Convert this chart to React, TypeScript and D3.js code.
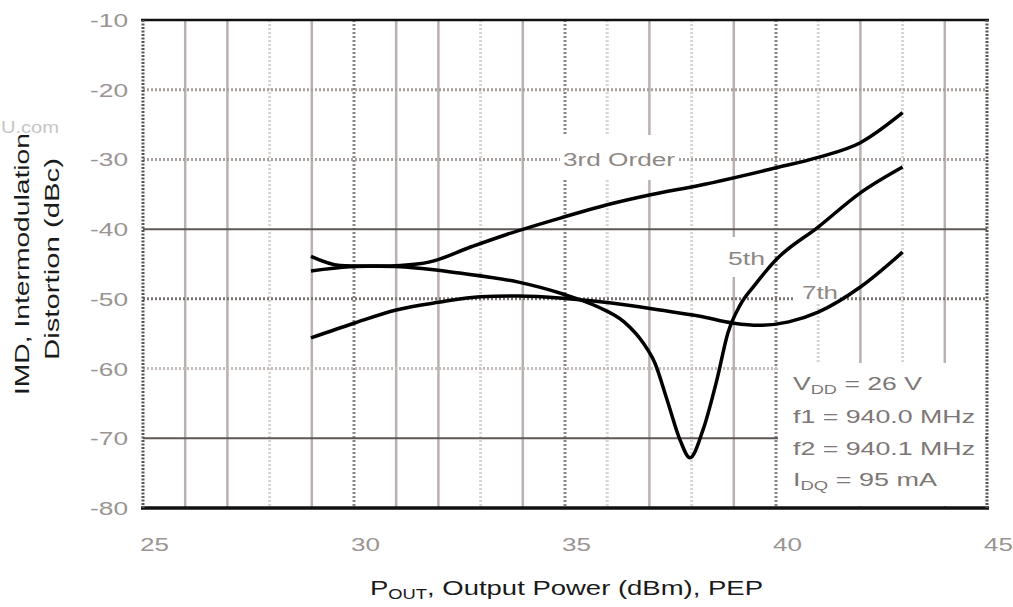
import React from 'react';
import * as d3 from 'd3';

// axis ticks
const xTicks = [25, 30, 35, 40, 45];
const yTicks = [-10, -20, -30, -40, -50, -60, -70, -80];

// 3rd order IMD
const thirdPout = [28.98, 29.9, 31.1, 31.8, 32.75, 33.6, 34.95, 36.0, 37.0, 38.2, 40.0, 41.0, 42.0, 43.0];
const thirdImd = [-46.0, -45.4, -45.2, -44.7, -42.6, -40.8, -38.3, -36.5, -35.1, -33.7, -31.2, -29.7, -27.6, -23.3];

// 5th order IMD
const fifthPout = [28.98, 29.67, 31.1, 32.5, 33.9, 34.95, 35.8, 36.4, 36.85, 37.13, 37.42, 37.73, 37.96, 38.27, 38.6, 38.86, 39.15, 39.5, 40.0, 41.0, 42.0, 43.0];
const fifthImd = [-43.9, -45.2, -45.4, -46.3, -47.6, -49.3, -51.2, -53.3, -56.3, -59.2, -64.5, -70.3, -72.8, -68.8, -61.6, -54.9, -50.9, -48.0, -44.4, -39.7, -34.8, -31.1];

// 7th order IMD
const seventhPout = [28.98, 30.0, 31.0, 32.0, 33.0, 33.9, 34.95, 36.1, 37.25, 38.2, 39.0, 39.6, 40.3, 41.0, 42.0, 43.0];
const seventhImd = [-55.6, -53.5, -51.6, -50.5, -49.7, -49.6, -49.9, -50.6, -51.6, -52.5, -53.5, -53.8, -53.3, -51.9, -48.3, -43.3];

const W = 1013;
const H = 607;
const margin = { left: 143, right: 26, top: 20, bottom: 99 };

const x = d3.scaleLinear().domain([25, 45]).range([margin.left, W - margin.right]);
const y = d3.scaleLinear().domain([-80, -10]).range([H - margin.bottom, margin.top]);

const line = d3
  .line<[number, number]>()
  .x((d) => x(d[0]))
  .y((d) => y(d[1]))
  .curve(d3.curveMonotoneX);

const zip = (a: number[], b: number[]) => a.map((v, i) => [v, b[i]] as [number, number]);

// scanned grid: three kinds of vertical lines
const solidV = [26, 27, 29, 31, 32, 34, 37, 39, 42, 44];
const darkDotV = [30, 35, 40];
const lightDotV = [28, 33, 36, 38, 41, 43];

const hStyle: Record<number, { stroke: string; dash?: string; w: number }> = {
  [-20]: { stroke: '#a8a09c', dash: '2,2', w: 3 },
  [-30]: { stroke: '#a8a09c', dash: '2,2', w: 3 },
  [-40]: { stroke: '#5f5755', w: 2 },
  [-50]: { stroke: '#7c7472', dash: '2,2', w: 3 },
  [-60]: { stroke: '#c4bcb9', dash: '2,2', w: 3 },
  [-70]: { stroke: '#5f5755', w: 2 },
};

const font = 'Liberation Sans, Arial, sans-serif';

const App = () => {
  const x0 = x(25);
  const x1 = x(45);
  const y0 = y(-80);
  const y1 = y(-10);

  return (
    <svg
      width={W}
      height={H}
      style={{ position: 'absolute', left: 0, top: 0, background: '#fff' }}
      fontFamily={font}
    >
      <rect width={W} height={H} fill="#fff" />

      {/* grid */}
      {solidV.map((v) => (
        <line key={'s' + v} x1={x(v)} x2={x(v)} y1={y1} y2={y0} stroke="#b9b1ad" strokeWidth={2.5} />
      ))}
      {darkDotV.map((v) => (
        <line key={'d' + v} x1={x(v)} x2={x(v)} y1={y1} y2={y0} stroke="#8c8482" strokeWidth={3} strokeDasharray="2,2" />
      ))}
      {lightDotV.map((v) => (
        <line key={'l' + v} x1={x(v)} x2={x(v)} y1={y1} y2={y0} stroke="#dbd5d2" strokeWidth={3} strokeDasharray="2,2" />
      ))}
      {yTicks
        .filter((t) => hStyle[t])
        .map((t) => (
          <line
            key={'h' + t}
            x1={x0}
            x2={x1}
            y1={y(t)}
            y2={y(t)}
            stroke={hStyle[t].stroke}
            strokeWidth={hStyle[t].w}
            strokeDasharray={hStyle[t].dash}
          />
        ))}

      {/* white patches behind labels */}
      <rect x={560} y={135} width={118} height={45} fill="#fff" />
      <rect x={722} y={237} width={48} height={40} fill="#fff" />
      <rect x={793} y={280} width={47} height={24} fill="#fff" />
      <rect x={x(40) + 2} y={363} width={x(45) - x(40) - 4} height={y0 - 363 - 2} fill="#fff" />

      {/* frame */}
      <line x1={x0 - 2} x2={x1 + 2} y1={y1} y2={y1} stroke="#111" strokeWidth={2.5} />
      <line x1={x0 - 2} x2={x1 + 2} y1={y0} y2={y0} stroke="#111" strokeWidth={3.5} />
      <line x1={x0} x2={x0} y1={y1} y2={y0} stroke="#5a5452" strokeWidth={3} strokeDasharray="2,1.5" />
      <line x1={x1} x2={x1} y1={y1} y2={y0} stroke="#5a5452" strokeWidth={3} strokeDasharray="2,1.5" />

      {/* curves */}
      {[zip(thirdPout, thirdImd), zip(fifthPout, fifthImd), zip(seventhPout, seventhImd)].map((d, i) => (
        <path key={i} d={line(d) || ''} fill="none" stroke="#000" strokeWidth={3.5} strokeLinejoin="round" />
      ))}

      {/* tick labels */}
      {yTicks.map((t) => (
        <text
          key={'yt' + t}
          x={90}
          y={y(t) + 7}
          fontSize={18}
          fill="#9a9492"
          textLength={38}
          lengthAdjust="spacingAndGlyphs"
        >
          {t}
        </text>
      ))}
      {xTicks.map((t) => (
        <text
          key={'xt' + t}
          x={x(t) - 3}
          y={551}
          fontSize={18}
          fill="#9a9492"
          textLength={29}
          lengthAdjust="spacingAndGlyphs"
        >
          {t}
        </text>
      ))}

      {/* curve labels */}
      <text x={563} y={166} fontSize={18} fill="#8e8884" textLength={112} lengthAdjust="spacingAndGlyphs">
        3rd Order
      </text>
      <text x={728} y={265} fontSize={18} fill="#8e8884" textLength={37} lengthAdjust="spacingAndGlyphs">
        5th
      </text>
      <text x={802} y={299} fontSize={18} fill="#8e8884" textLength={36} lengthAdjust="spacingAndGlyphs">
        7th
      </text>

      {/* conditions */}
      <g fontSize={19} fill="#7d7775">
        <text x={793} y={390} textLength={129} lengthAdjust="spacingAndGlyphs">
          V<tspan fontSize={13} dy={4}>DD</tspan>
          <tspan dy={-4}> = 26 V</tspan>
        </text>
        <text x={793} y={423} textLength={182} lengthAdjust="spacingAndGlyphs">
          f1 = 940.0 MHz
        </text>
        <text x={793} y={455} textLength={182} lengthAdjust="spacingAndGlyphs">
          f2 = 940.1 MHz
        </text>
        <text x={793} y={486} textLength={144} lengthAdjust="spacingAndGlyphs">
          I<tspan fontSize={13} dy={4}>DQ</tspan>
          <tspan dy={-4}> = 95 mA</tspan>
        </text>
      </g>

      {/* axis titles */}
      <text x={370} y={595} fontSize={21} fill="#1a1a1a" textLength={393} lengthAdjust="spacingAndGlyphs">
        P<tspan fontSize={14} dy={4}>OUT</tspan>
        <tspan dy={-4}>, Output Power (dBm), PEP</tspan>
      </text>
      <g transform="translate(29,264) rotate(-90)">
        <text x={0} y={0} fontSize={20} fill="#1a1a1a" textAnchor="middle" textLength={262} lengthAdjust="spacingAndGlyphs">
          IMD, Intermodulation
        </text>
      </g>
      <g transform="translate(59,259) rotate(-90)">
        <text x={0} y={0} fontSize={20} fill="#1a1a1a" textAnchor="middle" textLength={202} lengthAdjust="spacingAndGlyphs">
          Distortion (dBc)
        </text>
      </g>

      {/* scan watermark fragment */}
      <text x={1} y={133} fontSize={16} fill="#c9c5c4" textLength={58} lengthAdjust="spacingAndGlyphs">
        U.com
      </text>
    </svg>
  );
};

export default App;
